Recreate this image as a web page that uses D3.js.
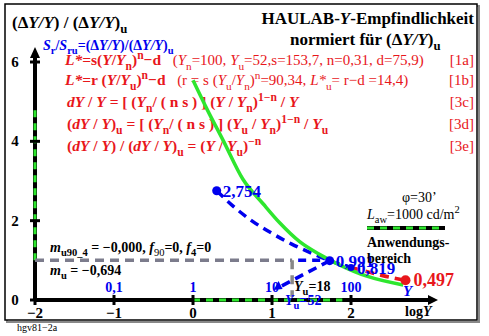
<!DOCTYPE html>
<html>
<head>
<meta charset="utf-8">
<script src="https://cdn.jsdelivr.net/npm/d3@7"></script>
<style>
  body { margin: 0; background: #fff; }
  svg text { font-family: "Liberation Serif", "DejaVu Serif", serif; }
</style>
</head>
<body>
<div id="chart"></div>
<script>
// chart values (x = log Y, y = relative sensitivity)
const xTicks = [-2, -1, 0, 1, 2];
const yTicks = [0, 2, 4, 6];
const greenCurve = [[0, 5.54], [0.18, 4.8], [0.38, 4.03], [0.63, 3.05], [0.89, 2.42], [1.1, 1.94],
  [1.35, 1.47], [1.6, 1.15], [1.86, 0.88], [2.2, 0.6], [2.66, 0.38]];
const blueCurve = [[0.30, 2.754], [0.5, 2.38], [0.75, 1.99], [1.0, 1.68], [1.25, 1.41], [1.5, 1.18],
  [1.73, 0.991], [2.0, 0.819]];
const redCurve = [[2.0, 0.819], [2.25, 0.69], [2.5, 0.57], [2.69, 0.497]];
const bluePoints = [[0.30, 2.754, "2,754"], [1.73, 0.991, "0,991"]];
const redPoints = [[2.69, 0.497, "0,497"]];
const yLabels = [[-1, "0,1"], [0, "1"], [1, "10"], [2, "100"]];
const logYu18 = 1.255;   // Yu = 18
const greenRangeX = [0, 1.89];
const greenRangeY = [1, 4.9];

const width = 489, height = 336;
const svg = d3.select("#chart").append("svg")
  .attr("width", width).attr("height", height);

const x = d3.scaleLinear().domain([-2, 2]).range([35, 351]);
const y = d3.scaleLinear().domain([0, 6]).range([300, 62]);

// frame with a little shadow
svg.append("rect").attr("x", 7).attr("y", 6).attr("width", 472).attr("height", 316)
  .attr("fill", "none").attr("stroke", "#888").attr("stroke-width", 2);
svg.append("rect").attr("x", 5).attr("y", 4).attr("width", 472).attr("height", 316)
  .attr("fill", "#fff").attr("stroke", "#000").attr("stroke-width", 1.5);

// helper: write text made of pieces [text, flags] ; flags: i=italic, b=sub, p=sup, n=normal weight
function rich(g, px, py, parts, opt) {
  const t = g.append("text").attr("x", px).attr("y", py)
    .attr("font-size", opt.size).attr("fill", opt.color)
    .attr("font-weight", opt.weight || "bold");
  if (opt.anchor) t.attr("text-anchor", opt.anchor);
  let shift = 0;
  parts.forEach(p => {
    const f = p[1] || "";
    let base = opt.size;
    if (f.includes("n") && opt.normalSize) base = opt.normalSize;
    let want = 0;
    if (f.includes("b")) want = base * 0.3;
    if (f.includes("p")) want = -base * 0.4;
    const s = t.append("tspan").text(p[0]).attr("dy", want - shift);
    shift = want;
    if (f.includes("i")) s.attr("font-style", "italic");
    if (f.includes("n")) s.attr("font-weight", "normal");
    if (f.includes("b") || f.includes("p")) s.attr("font-size", base * 0.75);
    else if (base !== opt.size) s.attr("font-size", base);
  });
  return t;
}

// titles
rich(svg, 12, 28, [["(Δ"], ["Y/Y", "i"], [") / (Δ"], ["Y/Y", "i"], [")"], ["u", "b"]], { size: 17, color: "#000" });
rich(svg, 474, 24, [["HAULAB-"], ["Y", "i"], ["-Empfindlichkeit"]], { size: 17, color: "#000", anchor: "end" });
rich(svg, 290, 45, [["normiert für (Δ"], ["Y/Y", "i"], [")"], ["u", "b"]], { size: 17, color: "#000" });
rich(svg, 43, 50, [["S", "i"], ["r", "b"], ["/"], ["S", "i"], ["ru", "b"], ["=(Δ"], ["Y/Y", "i"], [")/(Δ"], ["Y/Y", "i"], [")"], ["u", "b"]],
  { size: 14, color: "#0000ee" });

// red formulas
const red = "#e8161b";
const fs = 15.5, fn = 15;
const gap = "\u00a0\u00a0\u00a0";
rich(svg, 65, 65, [["L*", "i"], ["=s("], ["Y", "i"], ["/"], ["Y", "i"], ["n", "b"], [")"], ["n", "p"], ["−d" + gap],
  ["(", "n"], ["Y", "in"], ["n", "bn"], ["=100, ", "n"], ["Y", "in"], ["u", "bn"], ["=52,s=153,7, n=0,31, d=75,9)", "n"]],
  { size: fs, normalSize: fn, color: red });
rich(svg, 65, 85, [["L*", "i"], ["=r ("], ["Y", "i"], ["/"], ["Y", "i"], ["u", "b"], [")"], ["n", "p"], ["−d" + gap],
  ["(r = s (", "n"], ["Y", "in"], ["u", "bn"], ["/", "n"], ["Y", "in"], ["n", "bn"], [")", "n"], ["n", "pn"],
  ["=90,34, ", "n"], ["L*", "in"], ["u", "bn"], ["= r−d =14,4)", "n"]],
  { size: fs, normalSize: fn, color: red });
rich(svg, 67, 107, [["dY", "i"], [" / "], ["Y", "i"], [" = [ ("], ["Y", "i"], ["n", "b"], ["/ ( n s ) ] ("], ["Y", "i"], [" / "], ["Y", "i"], ["n", "b"], [")"], ["1−n", "p"], [" / "], ["Y", "i"]],
  { size: fs, color: red });
rich(svg, 67, 129, [["(", ""], ["dY", "i"], [" / "], ["Y", "i"], [")"], ["u", "b"], [" = [ ("], ["Y", "i"], ["n", "b"], ["/ ( n s ) ] ("], ["Y", "i"], ["u", "b"], [" / "], ["Y", "i"], ["n", "b"], [")"], ["1−n", "p"], [" / "], ["Y", "i"], ["u", "b"]],
  { size: fs, color: red });
rich(svg, 67, 151, [["("], ["dY", "i"], [" / "], ["Y", "i"], [") / ("], ["dY", "i"], [" / "], ["Y", "i"], [")"], ["u", "b"], [" = ("], ["Y", "i"], [" / "], ["Y", "i"], ["u", "b"], [")"], ["−n", "p"]],
  { size: fs, color: red });
[["[1a]", 65], ["[1b]", 85], ["[3c]", 107], ["[3d]", 129], ["[3e]", 151]].forEach(d => {
  svg.append("text").attr("x", 474).attr("y", d[1]).attr("text-anchor", "end")
    .attr("font-size", fn).attr("fill", red).text(d[0]);
});

// axes
const axisW = 4;
svg.append("line").attr("x1", x(-2)).attr("x2", x(3.0)).attr("y1", y(0)).attr("y2", y(0))
  .attr("stroke", "#000").attr("stroke-width", axisW);
svg.append("path").attr("d", `M${x(3.0) - 2},${y(0) - 5}L${x(3.0) + 8},${y(0)}L${x(3.0) - 2},${y(0) + 5}Z`);
svg.append("line").attr("x1", x(-2)).attr("x2", x(-2)).attr("y1", y(0)).attr("y2", 56)
  .attr("stroke", "#000").attr("stroke-width", axisW);
svg.append("path").attr("d", `M${x(-2) - 5},58L${x(-2)},47L${x(-2) + 5},58Z`);

// green range marks on axes
svg.append("line").attr("x1", x(greenRangeX[0])).attr("x2", x(greenRangeX[1])).attr("y1", y(0)).attr("y2", y(0))
  .attr("stroke", "#2ee62e").attr("stroke-width", axisW - 1).attr("stroke-dasharray", "7,6");
svg.append("line").attr("x1", x(-2)).attr("x2", x(-2)).attr("y1", y(greenRangeY[0])).attr("y2", y(greenRangeY[1]))
  .attr("stroke", "#2ee62e").attr("stroke-width", axisW - 1).attr("stroke-dasharray", "7,6");

// ticks and labels
svg.selectAll(".xt").data(xTicks).enter().append("line")
  .attr("x1", d => x(d)).attr("x2", d => x(d)).attr("y1", y(0) - 5).attr("y2", y(0) + 5)
  .attr("stroke", "#000").attr("stroke-width", 3);
svg.selectAll(".xl").data(xTicks).enter().append("text")
  .attr("x", d => x(d)).attr("y", 318).attr("text-anchor", "middle")
  .attr("font-size", 15).attr("font-weight", "bold").text(d => d < 0 ? "−" + (-d) : d);
svg.selectAll(".yt").data(yTicks).enter().append("line")
  .attr("x1", x(-2) - 5).attr("x2", x(-2) + 5).attr("y1", d => y(d)).attr("y2", d => y(d))
  .attr("stroke", "#000").attr("stroke-width", 3);
svg.selectAll(".yl").data(yTicks).enter().append("text")
  .attr("x", 15).attr("y", d => y(d) + 5).attr("text-anchor", "middle")
  .attr("font-size", 15).attr("font-weight", "bold").text(d => d);
rich(svg, 405, 316, [["log"], ["Y", "i"]], { size: 14, color: "#000" });

// Y value labels above axis
svg.selectAll(".yv").data(yLabels).enter().append("text")
  .attr("x", d => x(d[0])).attr("y", 292).attr("text-anchor", "middle")
  .attr("font-size", 14).attr("font-weight", "bold").attr("fill", "#0000ee").text(d => d[1]);

// gray reference lines at value 1 and Yu = 18
svg.append("line").attr("x1", x(-2)).attr("x2", x(logYu18)).attr("y1", y(1)).attr("y2", y(1))
  .attr("stroke", "#7c7c8c").attr("stroke-width", 3.5).attr("stroke-dasharray", "9,6");
svg.append("line").attr("x1", x(logYu18)).attr("x2", x(logYu18)).attr("y1", y(1)).attr("y2", y(0) - 3)
  .attr("stroke", "#888").attr("stroke-width", 3.5).attr("stroke-dasharray", "9,6");
svg.append("line").attr("x1", x(logYu18) + 6).attr("x2", x(1.73)).attr("y1", y(1)).attr("y2", y(1))
  .attr("stroke", "#0000ee").attr("stroke-width", 3.5).attr("stroke-dasharray", "8,6");

// curves
const line = d3.line().x(d => x(d[0])).y(d => y(d[1])).curve(d3.curveMonotoneX);
svg.append("path").attr("d", line(blueCurve)).attr("fill", "none")
  .attr("stroke", "#0000ee").attr("stroke-width", 3.5).attr("stroke-dasharray", "9,6");
svg.append("path").attr("d", line(redCurve)).attr("fill", "none")
  .attr("stroke", red).attr("stroke-width", 3.5).attr("stroke-dasharray", "9,6");
// blue arrow back toward Y = 10
svg.append("line").attr("x1", x(1.73)).attr("y1", y(0.991)).attr("x2", x(1.1)).attr("y2", y(0.33))
  .attr("stroke", "#0000ee").attr("stroke-width", 3.5).attr("stroke-dasharray", "9,6");
svg.append("path").attr("d", `M${x(1.02)},${y(0.25)}l9,-1l-4,-8Z`).attr("fill", "#0000ee");
svg.append("path").attr("d", line(greenCurve)).attr("fill", "none")
  .attr("stroke", "#2ee62e").attr("stroke-width", 3.5);

// points and labels
svg.selectAll(".bp").data(bluePoints).enter().append("circle")
  .attr("cx", d => x(d[0])).attr("cy", d => y(d[1])).attr("r", 4.5).attr("fill", "#0000ee");
svg.selectAll(".bpl").data(bluePoints).enter().append("text")
  .attr("x", d => x(d[0]) + 6).attr("y", d => y(d[1]) + 6)
  .attr("font-size", 17).attr("font-weight", "bold").attr("fill", "#0000ee").text(d => d[2]);
svg.append("circle").attr("cx", x(2)).attr("cy", y(0.819)).attr("r", 3.5).attr("fill", "#0000ee");
svg.append("text").attr("x", x(2) + 6).attr("y", y(0.819) + 6)
  .attr("font-size", 17).attr("font-weight", "bold").attr("fill", "#0000ee").text("0,819");
svg.selectAll(".rp").data(redPoints).enter().append("circle")
  .attr("cx", d => x(d[0])).attr("cy", d => y(d[1])).attr("r", 5).attr("fill", red);
svg.selectAll(".rpl").data(redPoints).enter().append("text")
  .attr("x", d => x(d[0]) + 8).attr("y", d => y(d[1]) + 6)
  .attr("font-size", 18).attr("font-weight", "bold").attr("fill", red).text(d => d[2]);
rich(svg, 403, 296, [["Y", "i"]], { size: 15, color: "#0000ee" });

// Yu labels
rich(svg, 294, 291, [["Y", "i"], ["u", "b"], ["=18"]], { size: 14, color: "#000" });
rich(svg, 285, 305, [["Y", "i"], ["u", "b"], ["=52"]], { size: 14, color: "#0000ee" });

// m values
rich(svg, 50, 252, [["m", "i"], ["u90_4", "b"], [" = −0,000, "], ["f", "i"], ["90", "bn"], ["=0, "], ["f", "i"], ["4", "b"], ["=0"]],
  { size: 14, color: "#000" });
rich(svg, 50, 275, [["m", "i"], ["u", "b"], [" = −0,694"]], { size: 14, color: "#000" });

// legend
svg.append("text").attr("x", 402).attr("y", 202).attr("font-size", 14).text("φ=30’");
rich(svg, 367, 219, [["L", "i"], ["aw", "b"], ["=1000 cd/m"], ["2", "p"]], { size: 14, color: "#000", weight: "normal" });
svg.append("line").attr("x1", 367).attr("x2", 445).attr("y1", 228).attr("y2", 228)
  .attr("stroke", "#000").attr("stroke-width", 4);
svg.append("line").attr("x1", 367).attr("x2", 445).attr("y1", 228).attr("y2", 228)
  .attr("stroke", "#2ee62e").attr("stroke-width", 3).attr("stroke-dasharray", "7,6");
svg.append("text").attr("x", 367).attr("y", 247).attr("font-size", 14).attr("font-weight", "bold").text("Anwendungs-");
svg.append("text").attr("x", 367).attr("y", 263).attr("font-size", 14).attr("font-weight", "bold").text("bereich");

// figure code
svg.append("text").attr("x", 17).attr("y", 331).attr("font-size", 10).text("hgv81−2a");
</script>
</body>
</html>
